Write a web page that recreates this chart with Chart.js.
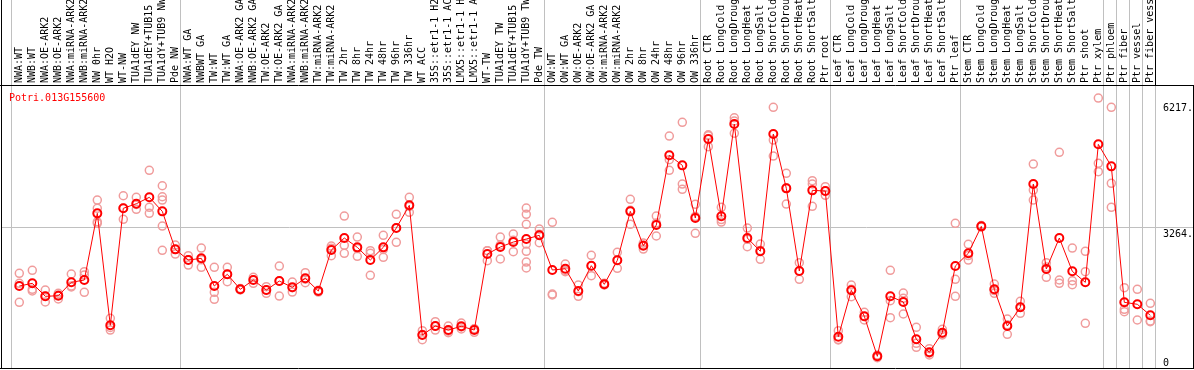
<!DOCTYPE html>
<html><head><meta charset="utf-8">
<script src="https://cdn.jsdelivr.net/npm/chart.js@4.4.1/dist/chart.umd.min.js"></script>
<style>html,body{margin:0;padding:0;background:#fff;overflow:hidden}#wrap{width:1194px;height:370px}</style>
</head><body><div id="wrap"><canvas id="c" width="1194" height="370"></canvas></div>
<script>
const geneTitle = 'Potri.013G155600';
const categories = [
 'NWA:WT','NWB:WT','NWA:OE-ARK2','NWB:OE-ARK2','NWA:miRNA-ARK2','NWB:miRNA-ARK2','NW 0hr','WT H2O','WT-NW','TUA1dEY NW','TUA1dEY+TUB15 NW','TUA1dY+TUB9 NW','Pde NW',
 'NWA:WT GA','NWBWT GA','TW:WT','TW:WT GA','NWA:OE-ARK2 GA','NWB:OE-ARK2 GA','TW:OE-ARK2','TW:OE-ARK2 GA','NWA:miRNA-ARK2 GA','NWB:miRNA-ARK2 GA','TW:miRNA-ARK2','TW:miRNA-ARK2 GA','TW 2hr','TW 8hr','TW 24hr','TW 48hr','TW 96hr','TW 336hr','WT ACC','35S::etr1-1 H2O','35S::etr1-1 ACC','LMX5::etr1-1 H2O','LMX5::etr1-1 ACC','WT-TW','TUA1dEY TW','TUA1dEY+TUB15 TW','TUA1dY+TUB9 TW','Pde TW',
 'OW:WT','OW:WT GA','OW:OE-ARK2','OW:OE-ARK2 GA','OW:miRNA-ARK2','OW:miRNA-ARK2 GA','OW 2hr','OW 8hr','OW 24hr','OW 48hr','OW 96hr','OW 336hr',
 'Root CTR','Root LongCold','Root LongDrought','Root LongHeat','Root LongSalt','Root ShortCold','Root ShortDrought','Root ShortHeat','Root ShortSalt','Ptr root',
 'Leaf CTR','Leaf LongCold','Leaf LongDrought','Leaf LongHeat','Leaf LongSalt','Leaf ShortCold','Leaf ShortDrought','Leaf ShortHeat','Leaf ShortSalt','Ptr leaf',
 'Stem CTR','Stem LongCold','Stem LongDrought','Stem LongHeat','Stem LongSalt','Stem ShortCold','Stem ShortDrought','Stem ShortHeat','Stem ShortSalt','Ptr shoot','Ptr xylem',
 'Ptr phloem','Ptr fiber','Ptr vessel','Ptr fiber vessel'
];
const meanValues = [
 1901,1964,1659,1673,1988,2042,3607,979,3725,3833,3983,3654,2762,
 2511,2551,1901,2176,1824,2042,1807,2018,1871,2082,1784,2746,3028,2809,2511,2809,3262,3795,751,962,868,955,868,2652,2816,2934,3004,3091,
 2277,2307,1784,2378,1941,2504,3654,2847,3333,4969,4734,3497,
 5351,3537,5703,3028,2716,5469,4194,2253,4147,4131,
 711,1800,1190,251,1659,1526,650,345,805,2370,
 2669,3302,1824,962,1401,4295,2300,3028,2246,1988,5227,
 4710,1518,1472,1213
];
const replicateValues = [
 [2199,1965,1518],[2270,1824,1784],[1807,1660,1526],[1730,1690,1596],[2183,1901,1880],[2237,2159,1753],[3919,3725,3410,3373],[1143,930,868],[4020,3730,3467],[3983,3815,3701],[4617,3748,3607],[4255,3997,3919,3309,2739],[2863,2760,2652],
 [2612,2520,2394],[2793,2520,2340],[2340,1753,1589],[2340,2176,2002],[1840,1824,1810],[2105,2050,1965],[1885,1807,1730],[2370,2018,1666],[1995,1860,1760],[2213,2060,1978],[1800,1784,1760],[2840,2790,2612],[3544,2856,2669],[3051,2780,2598],[2730,2669,2152],[3091,2760,2575],[3584,3270,2927],[3983,3770,3631],[852,760,641],[1063,955,868],[962,840,805],[1033,940,892],[899,890,814],[2730,2730,2495],[3051,2862,2535],[3122,2975,2706],[3732,3584,3349,2887,2716,2464,2324],[3239,3117,2917],
 [3396,1713,1690],[2417,2267,2237],[1925,1768,1659],[2622,2370,2143],[1965,1933,1925],[2692,2504,2316],[3936,3677,3349],[2910,2862,2769],[3544,3380,3075],[5422,4868,4617],[5743,4295,4171],[3819,3534,3138],
 [5452,5430,5171],[3748,3460,3403],[5851,5773,5485],[3262,2999,2823],[2887,2733,2528],[6095,5328,4952],[4546,4210,3826],[2448,2253,2058],[4373,4296,3772],[4232,4131,4030],
 [852,647,634],[1925,1825,1650],[1284,1183,1103],[282,251,220],[2270,1556,1157],[1737,1612,1244],[932,556,462],[430,323,282],[885,780,751],[3373,2058,1659],
 [2880,2616,2511],[3320,3302,3284],[1948,1794,1730],[1127,992,767],[1542,1401,1260],[4764,4154,3919],[2448,2347,2105],[5039,2042,1965],[2793,2025,1932],[2716,2237,1026],[6313,4781,4584],
 [6095,4311,3748],[1861,1354,1298],[1824,1103],[1495,1080,1063]
];
const groupStarts = [0,13,41,53,63,73,84,85,86,87,88];
const yTickValues = [0,3264,6217];
const yTickLabels = ['0','3264.','6217.'];
const yGridValue = 3264;

const MONO = "'DejaVu Sans Mono', monospace";
const GRAY = '#c0c0c0';
const BOUNDARY_SHIFT = 0.64;
const X_MIN = -1.408, X_MAX = 87.36;
const LABEL_SHIFT = 12 / 13; // compensates Chart.js rotated top-label offset (one line height)

const meanPoints = meanValues.map((v,i)=>({x:i,y:v}));
const repPoints = [];
replicateValues.forEach((arr,i)=>arr.forEach(v=>repPoints.push({x:i,y:v})));

const framePlugin = {
  id:'frame',
  beforeDatasetsDraw(chart){
    const ctx = chart.ctx, xs = chart.scales.x, a = chart.chartArea;
    ctx.save();
    ctx.strokeStyle = GRAY; ctx.lineWidth = 1;
    groupStarts.forEach(g=>{
      const px = Math.round(xs.getPixelForValue(g - BOUNDARY_SHIFT)) + 0.5;
      ctx.beginPath(); ctx.moveTo(px,0); ctx.lineTo(px,a.bottom); ctx.stroke();
    });
    ctx.restore();
  },
  afterDraw(chart){
    const ctx = chart.ctx, a = chart.chartArea, ys = chart.scales.y, xs = chart.scales.x;
    const W = chart.width;
    ctx.save();
    ctx.strokeStyle = '#000'; ctx.lineWidth = 1;
    const L = Math.round(a.left)+0.5, T = Math.round(a.top)+0.5, B = Math.round(a.bottom)-0.5, R = W-0.5;
    ctx.beginPath();
    ctx.moveTo(L,0); ctx.lineTo(L,B+0.5);
    ctx.moveTo(0,T); ctx.lineTo(W,T);
    ctx.moveTo(0,B); ctx.lineTo(W,B);
    ctx.moveTo(R,T); ctx.lineTo(R,B);
    const hr = Math.round(xs.getPixelForValue(groupStarts[groupStarts.length-1]-BOUNDARY_SHIFT))+0.5;
    ctx.moveTo(hr,0); ctx.lineTo(hr,T);
    ctx.stroke();
    ctx.font = '10px ' + MONO;
    ctx.fillStyle = '#ff0000'; ctx.textAlign = 'left'; ctx.textBaseline = 'alphabetic';
    ctx.fillText(geneTitle, a.left + 8, a.top + 16);
    ctx.fillStyle = '#000';
    yTickValues.forEach((v,i)=>{
      const py = ys.getPixelForValue(v);
      const base = v === 0 ? py - 1 : py + 9;
      ctx.fillText(yTickLabels[i], a.right + 8, base);
    });
    ctx.restore();
  }
};

const noPad = s => { s.paddingLeft = 0; s.paddingRight = 0; s.paddingTop = 0; s.paddingBottom = 0; };

new Chart(document.getElementById('c'), {
  type:'line',
  data:{datasets:[
    {type:'line', xAxisID:'x', yAxisID:'y', data:meanPoints, borderColor:'#ff0000', borderWidth:1, tension:0,
     pointRadius:4, pointBorderWidth:2, pointBorderColor:'#ff0000', pointBackgroundColor:'rgba(0,0,0,0)', order:0},
    {type:'scatter', xAxisID:'x', yAxisID:'y', data:repPoints, showLine:false, pointRadius:4, pointBorderWidth:1.5,
     pointBorderColor:'#f09c9c', pointBackgroundColor:'rgba(0,0,0,0)', borderColor:'#f09c9c', order:1}
  ]},
  options:{
    responsive:false, animation:false, devicePixelRatio:1,
    layout:{autoPadding:false, padding:{left:1,right:1,top:0,bottom:1}},
    plugins:{legend:{display:false}, tooltip:{enabled:false}, title:{display:false}},
    scales:{
      x:{type:'linear', display:false, min:X_MIN, max:X_MAX,
        afterFit:noPad},
      xl:{type:'linear', position:'top', min:X_MIN - LABEL_SHIFT, max:X_MAX - LABEL_SHIFT,
        afterBuildTicks:s=>{s.ticks = categories.map((_,i)=>({value:i}));},
        afterFit:s=>{s.height = 85; noPad(s);},
        grid:{display:false, drawTicks:false}, border:{display:false},
        ticks:{autoSkip:false, minRotation:90, maxRotation:90, padding:2, color:'#000',
          font:{family:MONO, size:10}, callback:v=>categories[v]}
      },
      y:{type:'linear', position:'right', min:-47, max:6620,
        afterBuildTicks:s=>{s.ticks = yTickValues.map(v=>({value:v}));},
        afterFit:s=>{s.width = 38; noPad(s);},
        border:{display:false},
        grid:{color:c=> (c.tick && c.tick.value===yGridValue) ? GRAY : 'rgba(0,0,0,0)', drawTicks:true, tickLength:38, lineWidth:1},
        ticks:{display:false}
      }
    }
  },
  plugins:[framePlugin]
});
</script></body></html>
